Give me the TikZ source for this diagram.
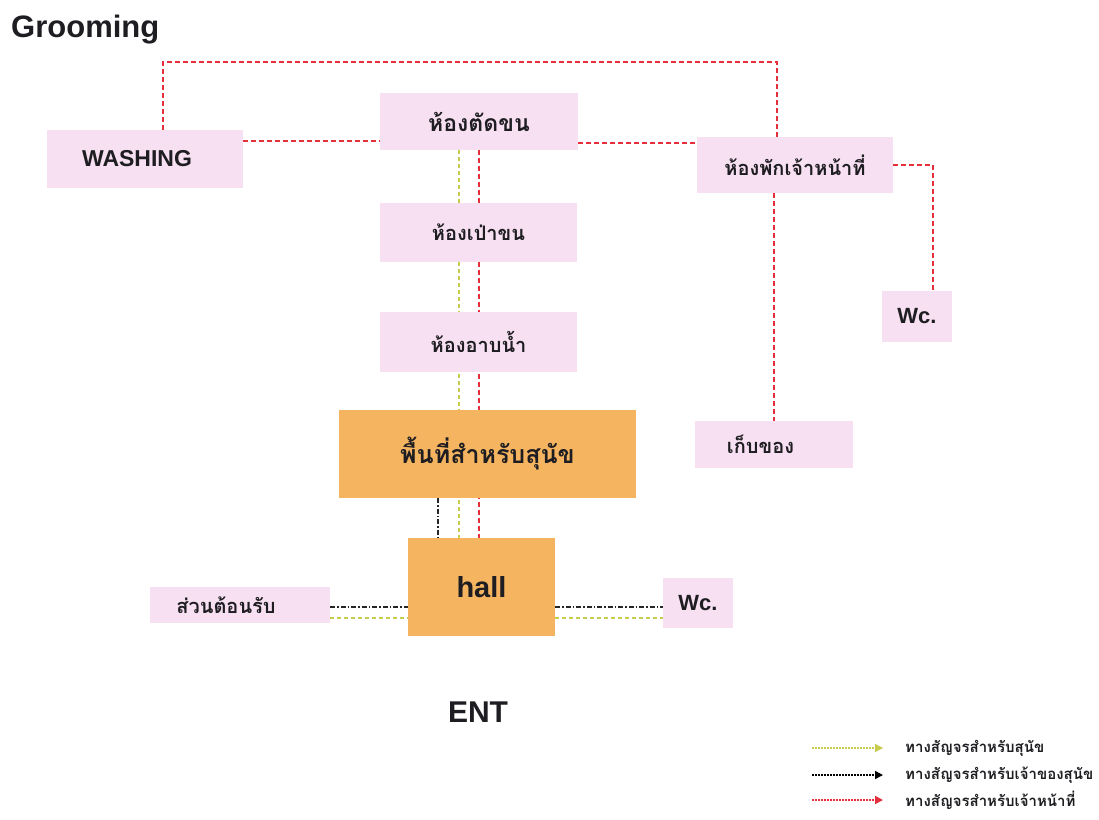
\documentclass[tikz,border=0pt]{standalone}
\usepackage{fontspec}
\setmainfont{Liberation Sans}
\newfontfamily\thai[Script=Thai]{Loma}
\usetikzlibrary{backgrounds,arrows.meta}
\definecolor{boxpink}{HTML}{F7E0F1}
\definecolor{boxorange}{HTML}{F5B460}
\definecolor{rline}{HTML}{E4303C}
\definecolor{yline}{HTML}{C8CC4C}
\definecolor{ink}{HTML}{1E1E22}
\tikzset{
  room/.style={fill=boxpink, draw=none, inner sep=0pt, text=ink, font=\thai\bfseries\fontsize{20}{24}\selectfont},
  hot/.style={fill=boxorange, draw=none, inner sep=0pt, text=ink},
  reddash/.style={draw=rline, line width=1.8pt, dash pattern=on 5pt off 3pt},
  yellowdash/.style={draw=yline, line width=1.2pt, dash pattern=on 4pt off 3pt},
  blackdash/.style={draw=black!85, line width=1.8pt, dash pattern=on 5pt off 2pt on 1.5pt off 2pt},
  legtext/.style={anchor=west, inner sep=0pt, text=ink, font=\thai\bfseries\fontsize{15}{17}\selectfont}
}
\begin{document}
\begin{tikzpicture}[x=1pt,y=-1pt]
\useasboundingbox (0,0) rectangle (1099,819);

\node[anchor=west, inner sep=0pt, text=ink, font=\bfseries\fontsize{31}{34}\selectfont] (title) at (11,30) {Grooming};

\node[room, minimum width=196pt, minimum height=58pt, font=\bfseries\fontsize{23}{27}\selectfont] (wash) at (145,159) {\hspace*{-16pt}WASHING};
\node[room, minimum width=198pt, minimum height=57pt, font=\thai\bfseries\fontsize{23}{27}\selectfont] (cut) at (479,121.5) {ห้องตัดขน};
\node[room, minimum width=196pt, minimum height=56pt] (staff) at (795,165) {ห้องพักเจ้าหน้าที่};
\node[room, minimum width=197pt, minimum height=59pt] (blow) at (478.5,232.5) {ห้องเป่าขน};
\node[room, minimum width=197pt, minimum height=60pt] (bath) at (478.5,342) {ห้องอาบน้ำ};
\node[hot, minimum width=297pt, minimum height=88pt, font=\thai\bfseries\fontsize{25}{29}\selectfont] (dog) at (487.5,454) {พื้นที่สำหรับสุนัข};
\node[hot, minimum width=147pt, minimum height=98pt, font=\bfseries\fontsize{29}{33}\selectfont] (hall) at (481.5,587) {hall};
\node[room, minimum width=180pt, minimum height=36pt] (recep) at (240,605) {\hspace*{-28pt}ส่วนต้อนรับ};
\node[room, minimum width=70pt, minimum height=50pt, font=\bfseries\fontsize{22}{26}\selectfont] (wcb) at (698,603) {Wc.};
\node[room, minimum width=70pt, minimum height=51pt, font=\bfseries\fontsize{22}{26}\selectfont] (wcr) at (917,316.5) {Wc.};
\node[room, minimum width=158pt, minimum height=47pt] (store) at (774,444.5) {\hspace*{-27pt}เก็บของ};

\node[inner sep=0pt, text=ink, font=\bfseries\fontsize{30}{34}\selectfont] (ent) at (478,712) {ENT};

\coordinate (topl) at (163,62);
\begin{pgfonlayer}{background}
\fill[white] (0,0) rectangle (1099,819);
% staff (red) routes
\draw[reddash] (topl |- wash.north) -- (topl) -| ([xshift=-18pt]staff.north);
\draw[reddash] ([yshift=18pt]wash.east) -- ([yshift=18pt]wash.east -| cut.west);
\draw[reddash] ([yshift=22pt]staff.west -| cut.east) -- ([yshift=22pt]staff.west);
\draw[reddash] (store.north |- staff.south) -- (store.north);
\draw[reddash] (staff.east) -| ([xshift=16pt]wcr.north);
\draw[reddash] (cut.south) -- (cut.south |- hall.north);
% dog (yellow) routes
\draw[yellowdash] ([xshift=-20pt]cut.south) -- ([xshift=-20pt]cut.south |- hall.north);
\draw[yellowdash] ([yshift=-13pt]recep.east) -- ([yshift=-13pt]recep.east -| hall.west);
\draw[yellowdash] ([yshift=-15pt]wcb.west -| hall.east) -- ([yshift=-15pt]wcb.west);
% owner (black) routes
\draw[blackdash] ([xshift=-43.5pt]hall.north |- dog.south) -- ([xshift=-43.5pt]hall.north);
\draw[blackdash] ([yshift=-2pt]recep.east) -- ([yshift=-2pt]recep.east -| hall.west);
\draw[blackdash] ([yshift=-4pt]wcb.west -| hall.east) -- ([yshift=-4pt]wcb.west);
\end{pgfonlayer}

% legend
\node[legtext] (lt1) at (905,748) {ทางสัญจรสำหรับสุนัข};
\node[legtext] (lt2) at (905,775) {ทางสัญจรสำหรับเจ้าของสุนัข};
\node[legtext] (lt3) at (905,800) {ทางสัญจรสำหรับเจ้าหน้าที่};
\coordinate (la1) at (812,748);
\coordinate (la2) at (812,775);
\coordinate (la3) at (812,800);
\draw[draw=yline, line width=1.3pt, dash pattern=on 1.5pt off 1.5pt, -{Triangle[length=8pt,width=8pt]}] (la1) -- ([xshift=-22pt]lt1.west);
\draw[draw=black, line width=1.6pt, dash pattern=on 1.5pt off 1.5pt, -{Triangle[length=8pt,width=8pt]}] (la2) -- ([xshift=-22pt]lt2.west);
\draw[draw=rline, line width=1.6pt, dash pattern=on 1.5pt off 1.5pt, -{Triangle[length=8pt,width=8pt]}] (la3) -- ([xshift=-22pt]lt3.west);
\end{tikzpicture}
\end{document}
